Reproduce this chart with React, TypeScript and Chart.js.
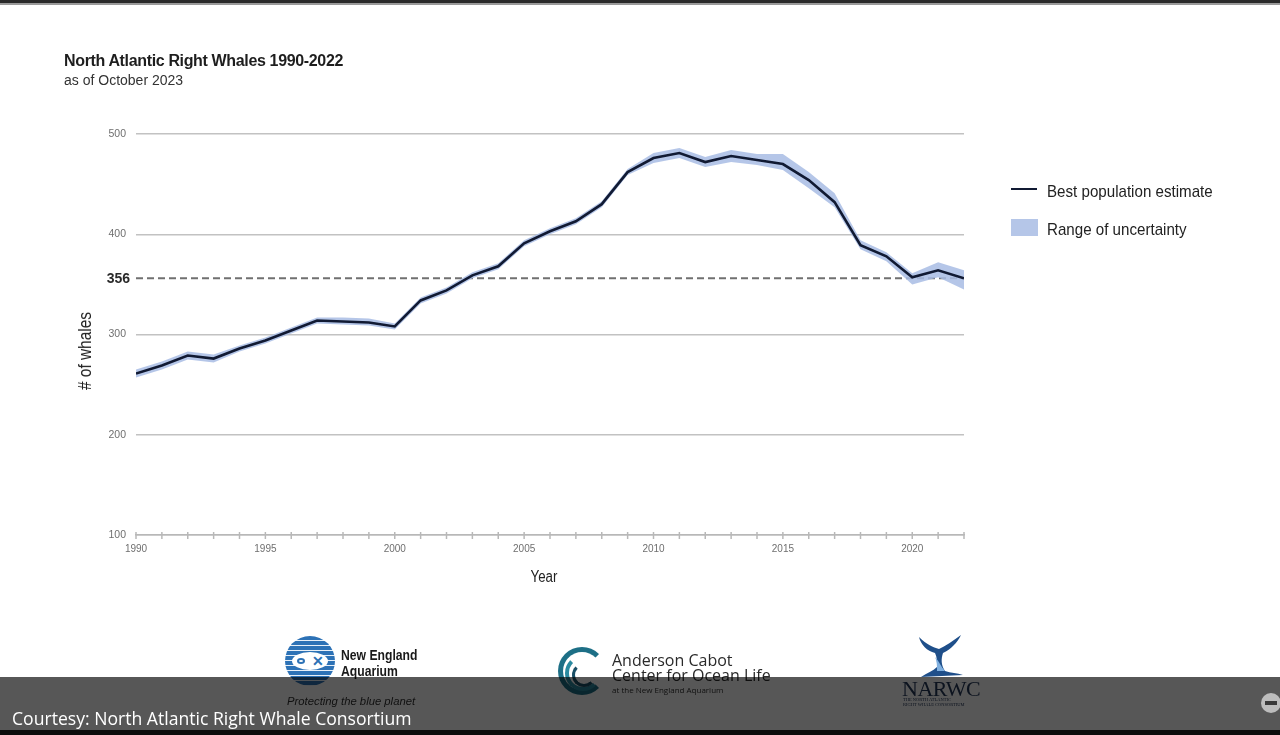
import React, { useEffect, useRef } from "react";
import { Chart, registerables } from "chart.js";

Chart.register(...registerables);

// ---- Data ----
const years = [
  1990, 1991, 1992, 1993, 1994, 1995, 1996, 1997, 1998, 1999, 2000,
  2001, 2002, 2003, 2004, 2005, 2006, 2007, 2008, 2009, 2010, 2011,
  2012, 2013, 2014, 2015, 2016, 2017, 2018, 2019, 2020, 2021, 2022,
];
const bestEstimate = [
  261, 269, 279, 276, 286, 294, 304, 314, 313, 312, 308,
  334, 344, 359, 368, 391, 403, 413, 430, 462, 476, 481,
  472, 478, 474, 470, 454, 432, 389, 378, 357, 364, 356,
];
const upperBound = [
  265, 273, 283, 280, 289, 297, 307, 317, 317, 316, 311,
  337, 347, 362, 371, 394, 406, 416, 433, 465, 481, 486,
  477, 484, 480, 480, 462, 441, 394, 382, 361, 372, 364,
];
const lowerBound = [
  257, 265, 275, 272, 283, 291, 301, 311, 310, 309, 305,
  331, 341, 356, 365, 388, 400, 410, 427, 459, 471, 476,
  467, 472, 469, 464, 446, 427, 385, 373, 350, 357, 345,
];
const xLabelYears = [1990, 1995, 2000, 2005, 2010, 2015, 2020];
const yTickValues = [100, 200, 300, 400, 500];
const referenceValue = 356;

const SANS = '"Liberation Sans", Arial, Helvetica, sans-serif';
const OPEN = '"Open Sans", "Noto Sans", sans-serif';

type TxtProps = {
  x: number;
  base: number;
  size: number;
  family?: string;
  weight?: number | string;
  color?: string;
  italic?: boolean;
  ls?: number;
  k?: number;
  sx?: number;
  children: React.ReactNode;
};

function Txt({ x, base, size, family = SANS, weight = 400, color = "#222", italic, ls = 0, k = 0.8465, sx = 1, children }: TxtProps) {
  return (
    <div
      style={{
        position: "absolute",
        left: x,
        top: base - k * size,
        fontFamily: family,
        fontSize: size,
        lineHeight: `${size}px`,
        fontWeight: weight as any,
        fontStyle: italic ? "italic" : "normal",
        color,
        letterSpacing: ls,
        whiteSpace: "nowrap",
        transform: sx !== 1 ? `scaleX(${sx})` : undefined,
        transformOrigin: "left center",
      }}
    >
      {children}
    </div>
  );
}

export default function App() {
  const canvasRef = useRef<HTMLCanvasElement | null>(null);

  useEffect(() => {
    const canvas = canvasRef.current;
    if (!canvas) return;

    const refLinePlugin = {
      id: "refLine",
      beforeDatasetsDraw(chart: any) {
        const { ctx, chartArea, scales } = chart;
        const y = scales.y.getPixelForValue(referenceValue);
        ctx.save();
        ctx.strokeStyle = "#b8b8b8";
        ctx.lineWidth = 1.5;
        years.forEach((yr) => {
          const x = scales.x.getPixelForValue(yr);
          ctx.beginPath();
          ctx.moveTo(x, chartArea.bottom - 3);
          ctx.lineTo(x, chartArea.bottom + 4);
          ctx.stroke();
        });
        ctx.setLineDash([7, 4]);
        ctx.strokeStyle = "#707070";
        ctx.lineWidth = 2;
        ctx.beginPath();
        ctx.moveTo(chartArea.left, y);
        ctx.lineTo(chartArea.right, y);
        ctx.stroke();
        ctx.setLineDash([]);
        ctx.fillStyle = "#2a2a2a";
        ctx.font = 'bold 14px "Liberation Sans", Arial, sans-serif';
        ctx.textAlign = "right";
        ctx.textBaseline = "middle";
        ctx.fillText(String(referenceValue), chartArea.left - 6, y + 1);
        ctx.restore();
      },
    };

    const chart = new Chart(canvas, {
      type: "line",
      data: {
        datasets: [
          {
            label: "Best population estimate",
            data: years.map((x, i) => ({ x, y: bestEstimate[i] })),
            borderColor: "#111a33",
            borderWidth: 2.6,
            pointRadius: 0,
            fill: false,
            tension: 0,
          },
          {
            label: "Upper",
            data: years.map((x, i) => ({ x, y: upperBound[i] })),
            borderColor: "rgba(0,0,0,0)",
            borderWidth: 0,
            pointRadius: 0,
            backgroundColor: "rgba(168,188,228,0.85)",
            fill: "+1",
            tension: 0,
          },
          {
            label: "Lower",
            data: years.map((x, i) => ({ x, y: lowerBound[i] })),
            borderColor: "rgba(0,0,0,0)",
            borderWidth: 0,
            pointRadius: 0,
            fill: false,
            tension: 0,
          },
        ],
      },
      options: {
        animation: false,
        responsive: false,
        maintainAspectRatio: false,
        layout: { padding: { left: 0, top: 134, right: 316, bottom: 160 } },
        plugins: {
          legend: { display: false },
          tooltip: { enabled: false },
          title: { display: false },
        },
        scales: {
          x: {
            type: "linear",
            min: 1990,
            max: 2022,
            afterFit: (s: any) => {
              s.height = 40;
            },
            afterBuildTicks: (s: any) => {
              s.ticks = years.map((v) => ({ value: v }));
            },
            ticks: {
              autoSkip: false,
              maxRotation: 0,
              callback: (v: any) => (xLabelYears.includes(Number(v)) ? String(v) : ""),
              color: "#6f6f6f",
              font: { family: SANS, size: 10 },
              padding: 8,
            },
            grid: { display: false, drawTicks: false },
            border: { display: true, color: "#b8b8b8", width: 1.5 },
          },
          y: {
            min: 100,
            max: 500,
            afterFit: (s: any) => {
              s.width = 136;
            },
            afterBuildTicks: (s: any) => {
              s.ticks = yTickValues.map((v) => ({ value: v }));
            },
            ticks: {
              color: "#6f6f6f",
              font: { family: SANS, size: 10.5 },
              padding: 10,
            },
            grid: { color: "#c2c2c2", lineWidth: 1.5, drawTicks: false },
            border: { display: false },
          },
        },
      },
      plugins: [refLinePlugin],
    } as any);

    return () => chart.destroy();
  }, []);

  return (
    <div
      style={{
        position: "fixed",
        left: 0,
        top: 0,
        width: 1280,
        height: 735,
        background: "#ffffff",
        overflow: "hidden",
      }}
    >
      {/* top bar */}
      <div style={{ position: "absolute", left: 0, top: 0, width: 1280, height: 3, background: "#2a2a2a" }} />
      <div style={{ position: "absolute", left: 0, top: 3, width: 1280, height: 2, background: "#9a9a9a" }} />

      <canvas ref={canvasRef} width={1280} height={735} style={{ position: "absolute", left: 0, top: 0, width: 1280, height: 735 }} />

      {/* titles */}
      <Txt x={64} base={66.5} size={16} weight={700} color="#1e1e1e" ls={-0.35}>
        North Atlantic Right Whales 1990-2022
      </Txt>
      <Txt x={64} base={85} size={14} color="#333">
        as of October 2023
      </Txt>

      {/* y axis title */}
      <div
        style={{
          position: "absolute",
          left: 85,
          top: 351,
          transform: "translate(-50%, -50%) rotate(-90deg) scaleX(0.88)",
          fontFamily: SANS,
          fontSize: 17.5,
          lineHeight: "18px",
          color: "#222",
          whiteSpace: "nowrap",
        }}
      >
        # of whales
      </div>

      {/* x axis title */}
      <div
        style={{
          position: "absolute",
          left: 544,
          top: 583 - 0.8465 * 16,
          transform: "translateX(-50%) scaleX(0.83)",
          fontFamily: SANS,
          fontSize: 16,
          lineHeight: "16px",
          color: "#222",
          whiteSpace: "nowrap",
        }}
      >
        Year
      </div>

      {/* legend */}
      <div style={{ position: "absolute", left: 1011, top: 188, width: 26, height: 2, background: "#111a33" }} />
      <Txt x={1047} base={197} size={17} color="#222" sx={0.89}>
        Best population estimate
      </Txt>
      <div style={{ position: "absolute", left: 1011, top: 219, width: 27, height: 17, background: "rgba(168,188,228,0.85)" }} />
      <Txt x={1047} base={235} size={17} color="#222" sx={0.89}>
        Range of uncertainty
      </Txt>

      {/* New England Aquarium logo */}
      <div
        style={{
          position: "absolute",
          left: 285,
          top: 636,
          width: 50,
          height: 50,
          borderRadius: "50%",
          background: "repeating-linear-gradient(180deg, #2d72b6 0px, #2d72b6 4px, #e8f0f8 4px, #e8f0f8 5px)",
        }}
      >
        <div
          style={{
            position: "absolute",
            left: 7,
            top: 16,
            width: 36,
            height: 18,
            borderRadius: "50%",
            background: "#ffffff",
          }}
        >
          <div style={{ position: "absolute", left: 5, top: 6, width: 8, height: 6, borderRadius: "50%", border: "2px solid #2d72b6", boxSizing: "border-box" }} />
          <div style={{ position: "absolute", left: 20, top: 2, fontFamily: SANS, fontWeight: 700, fontSize: 14, lineHeight: "14px", color: "#2d72b6" }}>✕</div>
        </div>
      </div>
      <Txt x={341} base={660} size={14.5} weight={700} color="#1a1a1a" sx={0.84}>
        New England
      </Txt>
      <Txt x={341} base={676} size={14.5} weight={700} color="#1a1a1a" sx={0.84}>
        Aquarium
      </Txt>
      <Txt x={287} base={706} size={11.3} italic color="#333" sx={1.0}>
        Protecting the blue planet
      </Txt>

      {/* Anderson Cabot logo */}
      <div style={{ position: "absolute", left: 558, top: 647, width: 48, height: 48, borderRadius: "50%", border: "5px solid #1d6f86", borderRightColor: "transparent", boxSizing: "border-box" }} />
      <div style={{ position: "absolute", left: 565, top: 655, width: 36, height: 36, borderRadius: "50%", border: "4px solid #2a8aa0", borderRightColor: "transparent", borderTopColor: "transparent", boxSizing: "border-box" }} />
      <div style={{ position: "absolute", left: 572, top: 663, width: 24, height: 24, borderRadius: "50%", border: "3px solid #1a4f66", borderRightColor: "transparent", borderTopColor: "transparent", boxSizing: "border-box" }} />
      <Txt x={612} base={666} size={16} family={OPEN} k={0.888} color="#2a2a2a">
        Anderson Cabot
      </Txt>
      <Txt x={612} base={681} size={16} family={OPEN} k={0.888} color="#2a2a2a">
        Center for Ocean Life
      </Txt>
      <Txt x={612} base={693} size={8} family={OPEN} k={0.888} color="#333">
        at the New England Aquarium
      </Txt>

      {/* NARWC logo */}
      <svg style={{ position: "absolute", left: 915, top: 633 }} width={50} height={46} viewBox="0 0 50 46">
        <path d="M4 4 C12 12 18 14 24 16 C30 13 38 8 46 2 C42 10 36 16 28 20 C26 26 26 32 30 38 C36 40 42 40 48 42 L6 44 C12 40 18 38 22 34 C22 28 22 24 20 20 C12 18 6 12 4 4 Z" fill="#1f4f8a" />
        <path d="M20 24 C24 28 26 34 30 38 L22 38 C22 32 22 28 20 24 Z" fill="#7fb0e0" />
      </svg>
      <Txt x={902} base={697} size={22} family='"Liberation Serif", "DejaVu Serif", serif' color="#25385a" ls={-0.5}>
        NARWC
      </Txt>
      <Txt x={903} base={702} size={4.5} family='"Liberation Serif", serif' color="#25385a">
        THE NORTH ATLANTIC
      </Txt>
      <Txt x={903} base={707} size={4.5} family='"Liberation Serif", serif' color="#25385a">
        RIGHT WHALE CONSORTIUM
      </Txt>

      {/* caption overlay */}
      <div style={{ position: "absolute", left: 0, top: 677, width: 1280, height: 53, background: "rgba(0,0,0,0.66)" }} />
      <div style={{ position: "absolute", left: 0, top: 730, width: 1280, height: 5, background: "#0c0c0c" }} />
      <Txt x={12} base={726} size={17.6} family={OPEN} k={0.888} color="#ffffff">
        Courtesy: North Atlantic Right Whale Consortium
      </Txt>
      <div
        style={{
          position: "absolute",
          left: 1261,
          top: 693,
          width: 20,
          height: 20,
          borderRadius: "50%",
          background: "#bdbdbd",
        }}
      >
        <div style={{ position: "absolute", left: 4, top: 8, width: 12, height: 4, background: "#3a3a3a" }} />
      </div>
    </div>
  );
}
